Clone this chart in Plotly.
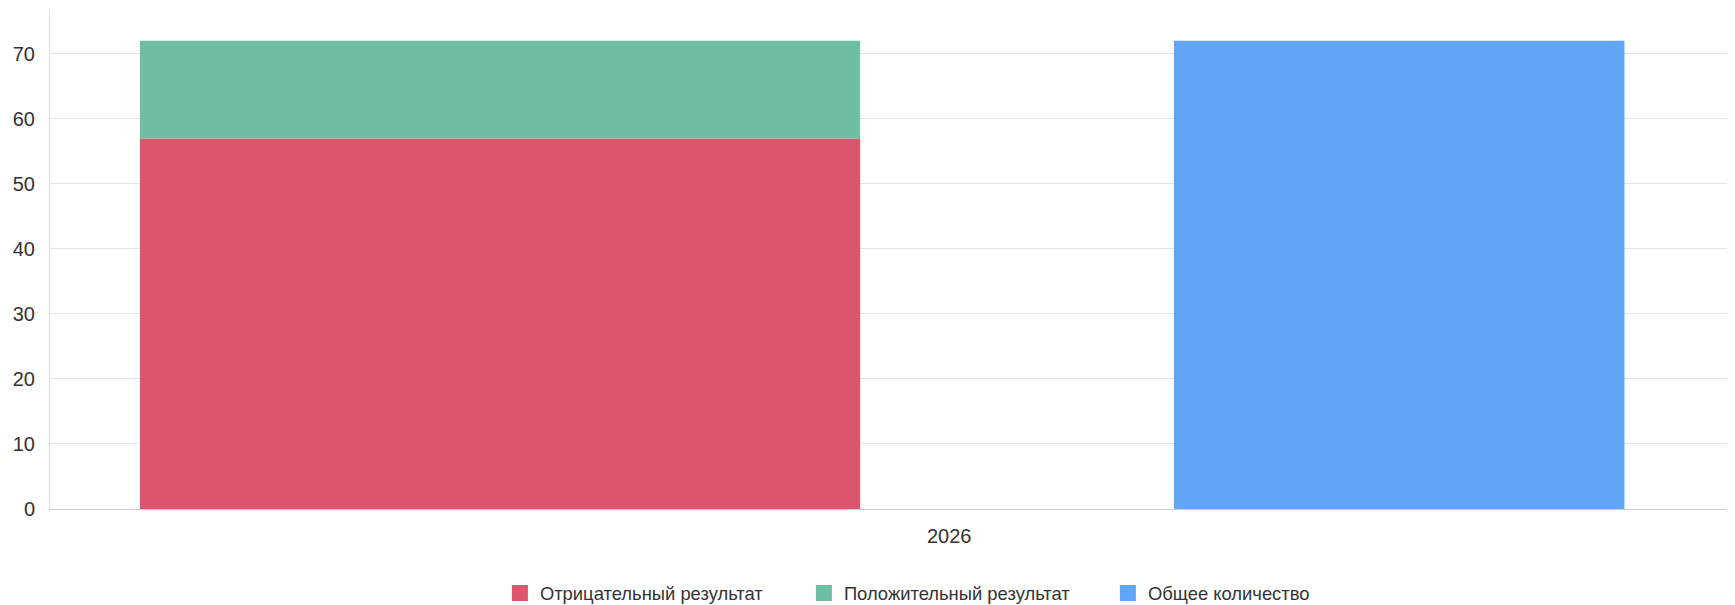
import plotly.graph_objects as go

categories = ["2026"]
negative = [57]
positive = [15]
total = [72]
series_names = ["Отрицательный результат", "Положительный результат", "Общее количество"]
y_ticks = [0, 10, 20, 30, 40, 50, 60, 70]

RED = "#d9566c"
GREEN = "#6ebea3"
BLUE = "#60a5f6"
FONT = "Liberation Sans, Arial, sans-serif"

fig = go.Figure()
fig.add_trace(go.Bar(x=categories, y=negative, name=series_names[0],
                     marker=dict(color=RED, line=dict(width=0)),
                     offset=-0.45, width=0.4005, legendgroup="neg", showlegend=False))
fig.add_trace(go.Bar(x=categories, y=positive, base=negative, name=series_names[1],
                     marker=dict(color=GREEN, line=dict(width=0)),
                     offset=-0.45, width=0.4005, legendgroup="pos", showlegend=False))
fig.add_trace(go.Bar(x=categories, y=total, name=series_names[2],
                     marker=dict(color=BLUE, line=dict(width=0)),
                     offset=0.125, width=0.2505, legendgroup="tot", showlegend=False))

# legend-only entries with larger square swatches
for name, color, grp in zip(series_names, [RED, GREEN, BLUE], ["neg", "pos", "tot"]):
    fig.add_trace(go.Scatter(x=[None], y=[None], mode="markers", name=name,
                             legendgroup=grp,
                             marker=dict(symbol="square", size=30, color=color),
                             hoverinfo="skip"))

# page body has an 8px default margin, compensated in the figure margins
fig.update_layout(
    width=1735, height=605,
    margin=dict(l=42, r=8, t=1, b=104),
    paper_bgcolor="white", plot_bgcolor="white",
    barmode="overlay",
    font=dict(family=FONT, size=18, color="#444"),
    showlegend=True,
    legend=dict(orientation="h", x=0.267, xanchor="left", y=-0.168, yanchor="middle",
                font=dict(size=18.4, color="#333"), itemwidth=30, itemsizing="trace",
                entrywidth=259, entrywidthmode="pixels", tracegroupgap=0),
    xaxis=dict(type="category", range=[-0.5, 0.437], showgrid=False,
               showline=True, linecolor="#cccccc", linewidth=1,
               ticks="", tickfont=dict(size=20, color="#333"), ticklabelstandoff=9,
               fixedrange=True),
    yaxis=dict(range=[0, 76.9], tickvals=y_ticks, showgrid=True, gridcolor="#e4e4e4",
               gridwidth=1, zeroline=False, showline=True, linecolor="#e0e0e0",
               linewidth=1, ticks="", tickfont=dict(size=20, color="#333"),
               ticklabelstandoff=10, fixedrange=True),
)

fig.write_html("out.html")
